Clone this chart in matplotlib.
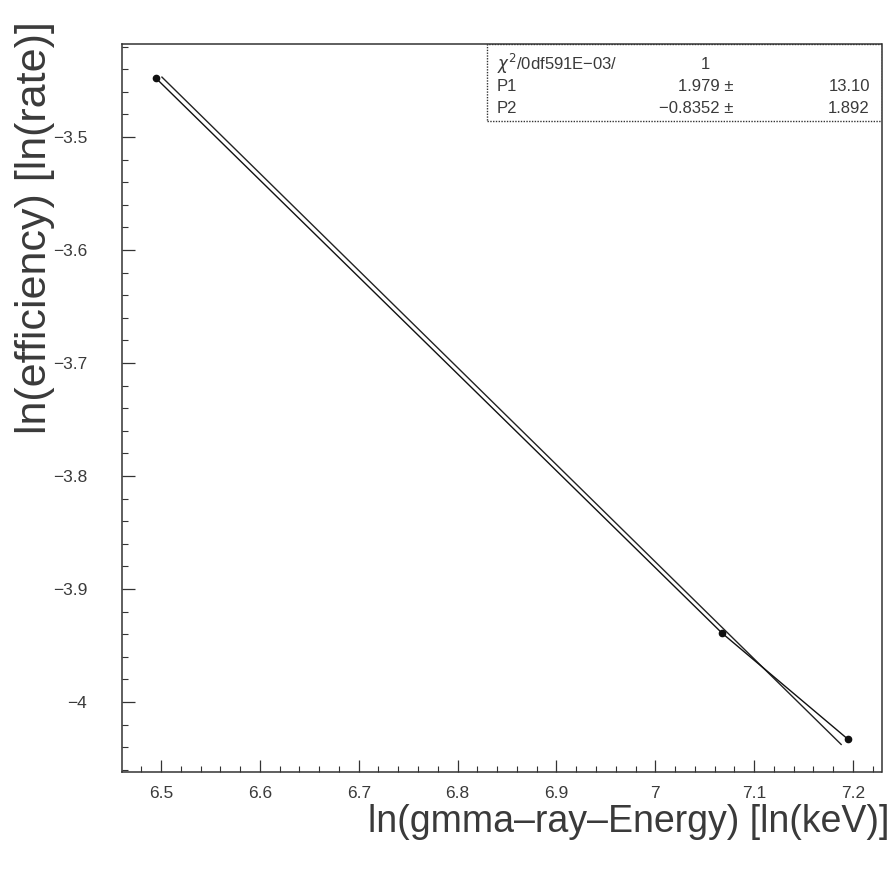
import matplotlib.pyplot as plt
from matplotlib.ticker import MultipleLocator

# measured points: ln(E) vs ln(eff), joined by a line
pt_x = [6.495, 7.0675, 7.195]
pt_y = [-3.448, -3.939, -4.033]

# straight fit line (end points)
fit_x = [6.501, 7.188]
fit_y = [-3.447, -4.0375]

x_ticks = [6.5, 6.6, 6.7, 6.8, 6.9, 7.0, 7.1, 7.2]
x_labels = ['6.5', '6.6', '6.7', '6.8', '6.9', '7', '7.1', '7.2']
y_ticks = [-3.5, -3.6, -3.7, -3.8, -3.9, -4.0]
y_labels = ['\u22123.5', '\u22123.6', '\u22123.7', '\u22123.8', '\u22123.9', '\u22124']

stat_rows = [
    ('$\\chi^2$/0df591E\u221203/', '1', ''),
    ('P1', '1.979 \u00b1', '13.10'),
    ('P2', '\u22120.8352 \u00b1', '1.892'),
]

plt.rcParams['font.family'] = ['Liberation Sans', 'DejaVu Sans']
txt = '#3a3a3a'

fig = plt.figure(figsize=(8.94, 8.69), dpi=100)
ax = fig.add_axes([122 / 894, 97 / 869, 760 / 894, 728 / 869])

ax.plot(fit_x, fit_y, color='#222222', lw=1.0)
ax.plot(pt_x, pt_y, color='#111111', lw=1.0)
ax.plot(pt_x, pt_y, 'o', color='#111111', ms=4.5)

ax.set_xlim(6.4606, 7.2293)
ax.set_ylim(-4.0619, -3.4177)

ax.set_xticks(x_ticks)
ax.set_xticklabels(x_labels)
ax.set_yticks(y_ticks)
ax.set_yticklabels(y_labels)
ax.xaxis.set_minor_locator(MultipleLocator(0.02))
ax.yaxis.set_minor_locator(MultipleLocator(0.02))
ax.tick_params(which='both', direction='in', top=False, right=False, color='#333333')
ax.tick_params(which='major', length=9, width=0.9)
ax.tick_params(which='minor', length=4, width=0.8)
ax.tick_params(axis='x', which='major', pad=10, labelsize=12.5, labelcolor=txt)
ax.tick_params(axis='y', which='major', pad=25, labelsize=12.5, labelcolor=txt)

for s in ax.spines.values():
    s.set_linestyle((0, (1, 1)))
    s.set_linewidth(1.1)
    s.set_color('#333333')

# stats box in the upper right corner
box = plt.Rectangle((0.480, 0.894), 0.52, 0.106, transform=ax.transAxes,
                    fill=False, ec='#333333', lw=1.0, ls=(0, (1, 1)))
ax.add_patch(box)
row_y = [0.9725, 0.9423, 0.912]
for (a, b, c), yy in zip(stat_rows, row_y):
    ax.text(0.493, yy, a, transform=ax.transAxes, ha='left', va='center', fontsize=12, color=txt)
    if c == '':
        ax.text(0.767, yy, b, transform=ax.transAxes, ha='center', va='center', fontsize=12, color=txt)
    else:
        ax.text(0.804, yy, b, transform=ax.transAxes, ha='right', va='center', fontsize=12, color=txt)
        ax.text(0.984, yy, c, transform=ax.transAxes, ha='right', va='center', fontsize=12, color=txt)

fig.text(889 / 894, 1 - 822 / 869, 'ln(gmma\u2013ray\u2013Energy) [ln(keV)]',
         ha='right', va='center', fontsize=27, color=txt)
fig.text(35 / 894, 1 - 228 / 869, 'ln(efficiency) [ln(rate)]',
         ha='center', va='center', rotation=90, fontsize=31, color=txt)

fig.savefig('out.png', dpi=100)
